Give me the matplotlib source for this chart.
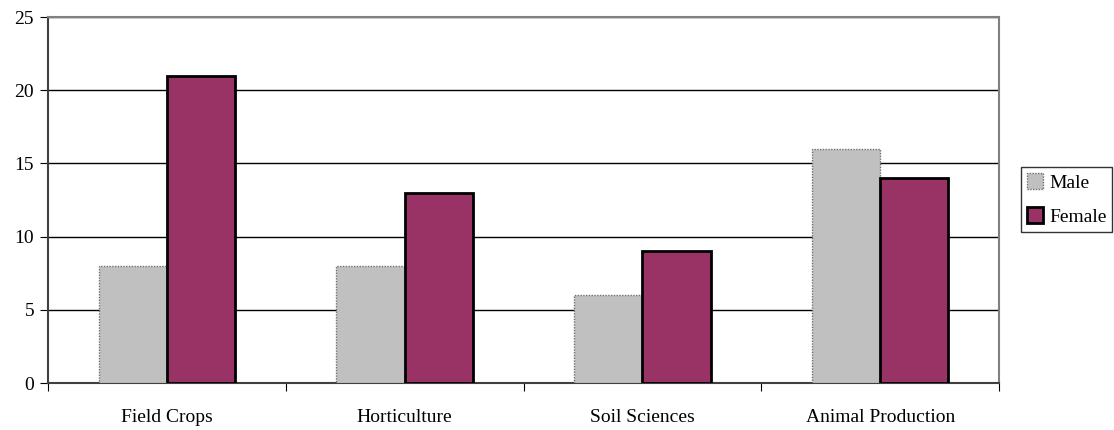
import numpy as np
import matplotlib.pyplot as plt

categories = ['Field Crops', 'Horticulture', 'Soil Sciences', 'Animal Production']
male = [8, 8, 6, 16]
female = [21, 13, 9, 14]

plt.rcParams['font.family'] = ['Liberation Serif', 'DejaVu Serif']

fig = plt.figure(figsize=(11.14, 4.30), dpi=100)
ax = fig.add_axes([48 / 1114, 1 - 383 / 430, 951 / 1114, 366 / 430])

x = np.arange(len(categories)) + 0.5
w = 0.287
ax.bar(x - w / 2, male, width=w, color='#C0C0C0', edgecolor='#707070',
       linewidth=1.0, linestyle=(0, (1, 1)), label='Male', zorder=3)
ax.bar(x + w / 2, female, width=w, color='#993366', edgecolor='black',
       linewidth=2.0, label='Female', zorder=3)

ax.set_xlim(0, len(categories))
ax.set_ylim(0, 25)
ax.set_yticks(np.arange(0, 26, 5))
ax.set_xticks(np.arange(0, len(categories) + 1))
ax.set_xticklabels([])
ax.set_xticks(x, minor=True)
ax.set_xticklabels(categories, minor=True)
ax.tick_params(axis='x', which='minor', length=0, pad=19, labelsize=14)
ax.tick_params(axis='x', which='major', length=6, direction='out', color='black')
ax.tick_params(axis='y', length=6, direction='out', labelsize=14, pad=4)

ax.yaxis.grid(True, color='black', linewidth=1.0, zorder=0)
ax.set_axisbelow(True)
for s in ['top', 'right']:
    ax.spines[s].set_color('#808080')
    ax.spines[s].set_linewidth(1.5)
for s in ['left', 'bottom']:
    ax.spines[s].set_color('#404040')
    ax.spines[s].set_linewidth(1.5)

leg = ax.legend(loc='center left', bbox_to_anchor=(1021 / 1114, 1 - 199.5 / 430),
                bbox_transform=fig.transFigure, fontsize=14, frameon=True,
                fancybox=False, edgecolor='black', handlelength=0.85,
                handleheight=0.85, handletextpad=0.3, borderpad=0.3,
                labelspacing=0.8, borderaxespad=0)
leg.get_frame().set_linewidth(1.0)

fig.savefig('out.png', dpi=100)
